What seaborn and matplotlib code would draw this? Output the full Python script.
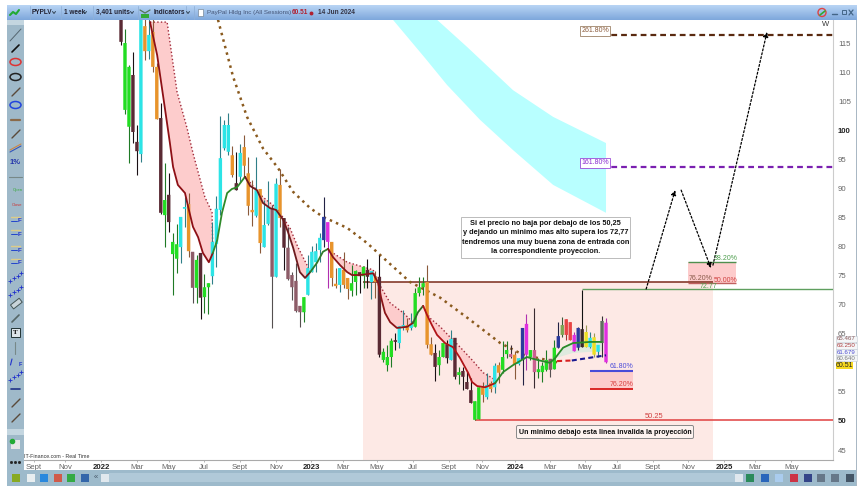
import numpy as np
import pandas as pd
import seaborn as sns
import matplotlib
matplotlib.use('Agg')
import matplotlib.pyplot as plt
from matplotlib.patches import Rectangle, Ellipse, FancyBboxPatch

# candles, one per week, oldest first
body_top = [125,115.0,110.9,109.5,98.0,125,117.9,116.4,116.9,110.9,102.1,88.0,88.9,80.8,80.4,85.1,86.8,87.3,79.1,77.7,
            78.9,73.0,73.7,80.8,86.5,95.2,100.9,100.9,95.7,90.9,96.1,97.1,92.6,86.3,89.7,89.9,83.7,86.8,86.6,90.8,
            90.6,84.9,79.8,75.1,74.1,69.8,71.3,76.3,79.1,79.2,81.5,85.1,84.2,80.8,73.6,76.3,76.0,74.6,73.7,75.8,
            75.6,76.5,76.0,75.8,74.8,74.8,61.9,61.0,63.8,63.9,66.3,66.5,66.5,66.7,72.0,73.0,73.7,73.9,63.2,61.7,
            61.0,63.4,63.2,64.1,64.3,58.4,58.6,56.7,55.3,53.4,55.8,55.8,56.2,56.5,59.5,59.6,61.0,62.2,61.5,61.4,
            60.8,66.0,66.7,62.2,62.2,58.9,59.5,60.5,60.7,62.6,64.6,66.5,67.5,67.0,64.8,66.0,65.8,65.3,64.3,64.4,
            63.1,67.2,66.9]
body_bot = [115.2,103.5,100.6,99.7,96.4,95.9,113.6,113.6,110.9,101.9,85.8,85.4,84.2,78.7,77.9,79.9,86.5,79.2,72.9,72.9,
            71.2,71.3,73.0,74.9,80.4,86.3,96.9,96.3,92.3,89.7,92.0,93.9,87.0,85.9,85.3,80.6,79.9,83.9,74.8,74.8,
            84.9,79.8,74.4,73.0,68.9,68.7,68.7,71.7,75.6,77.3,79.4,81.1,80.8,74.6,73.2,73.4,73.4,72.7,72.4,73.9,
            74.9,74.9,74.8,73.9,73.9,61.4,60.5,59.6,61.0,63.6,63.4,66.2,65.6,66.0,66.2,72.0,73.0,63.1,61.4,59.3,
            59.6,61.0,60.8,60.5,57.6,57.9,57.6,55.5,53.1,50.2,50.3,54.5,54.1,55.5,55.8,58.3,58.8,61.5,61.0,59.8,
            59.8,60.5,61.4,61.0,58.4,58.4,58.4,58.8,58.8,58.9,62.6,64.8,64.8,63.9,62.0,62.6,62.7,62.7,62.7,61.4,
            61.9,63.4,60.1]
high = [127,117.4,111.2,113.4,100.9,130,122,122,120,111.5,104.7,94.4,92.6,82.3,83.9,85.1,88.5,89.2,79.1,78.5,
        78.9,75.3,73.7,84.2,88.7,102.5,101.8,103.0,97.3,96.3,97.6,99.2,95.4,91.4,95.4,89.9,88.0,91.3,87.1,91.8,
        93.3,84.9,83.4,75.6,77.2,69.8,71.3,78.5,80.1,80.6,82.3,88.5,84.2,80.8,76.3,76.3,79.1,74.6,76.8,76.0,
        75.6,76.7,77.9,75.8,75.8,78.5,62.6,63.1,64.3,65.1,66.3,69.1,67.7,68.6,72.9,74.8,74.8,76.8,64.4,63.2,
        62.2,63.4,63.9,65.6,64.3,59.3,59.3,58.6,57.4,53.4,55.8,56.7,58.3,56.9,60.0,60.1,63.8,63.8,63.1,62.0,
        60.8,66.0,68.4,62.2,69.4,60.8,60.1,62.2,60.7,63.9,67.0,67.9,67.5,67.0,65.3,66.2,72.5,66.5,65.3,65.1,
        63.1,68.1,67.7]
low = [114.7,102.8,94.4,97.8,92.3,94.5,112.1,112.3,110.0,101.9,85.6,79.9,82.5,71.7,75.5,77.2,83.4,78.2,70.3,70.3,
       67.5,68.6,68.4,73.6,76.5,85.4,96.6,95.7,92.0,89.7,91.1,92.0,85.4,83.5,85.1,78.9,79.9,83.7,66.0,74.8,
       83.4,76.0,74.2,70.8,68.7,66.2,67.0,71.7,75.6,75.6,77.3,79.9,72.9,73.2,72.9,72.2,72.9,71.0,71.5,71.7,
       72.0,72.9,72.9,71.0,71.2,61.0,60.1,58.6,59.3,62.2,62.6,65.6,65.3,65.6,66.2,71.5,71.7,62.6,61.4,56.9,
       57.9,61.0,60.0,60.5,57.2,56.4,55.3,55.5,53.1,50.25,50.3,53.3,53.8,55.0,54.8,56.5,58.3,60.8,60.8,57.2,
       59.6,56.2,58.8,60.5,55.7,57.4,56.7,58.6,57.6,58.9,62.6,64.4,63.9,63.9,62.0,62.2,62.7,62.7,62.6,61.0,
       61.0,61.0,60.0]
kinds = ('b g g b b c o c o o b g b g g c c o v g '
         'b g g c c c c c o b c o o o c o c c v c '
         'o b v v v v g c c c c n m o o c o o g g '
         'b g b c o b g g g b c c o c g g g o o b '
         'g g b c b g b b b g g o c o c o g g p o '
         'c n m g p g g g v g n l r r m n k y c y '
         'c s m').split()

body_colors = {'b': '#5a2a34', 'v': '#8d5c68', 'g': '#22dd22', 'c': '#2ce4e6', 'o': '#e8942c', 'n': '#2b3a9c',
               'm': '#e02fe0', 'p': '#cc6090', 'r': '#e84545', 'y': '#eee020', 'l': '#7ea552', 'k': '#3a2a2a',
               's': '#5f6f60'}
wick_colors = {'b': '#1a1014', 'v': '#555050', 'g': '#1f7a25', 'c': '#2f7f88', 'o': '#8a5a3a', 'n': '#222244',
               'm': '#b02fb0', 'p': '#3a2a30', 'r': '#a03030', 'y': '#999955', 'l': '#3a5a3a', 'k': '#111111',
               's': '#333333'}

# fast average, split where its colour changes
ma_segments = {
    'a': ([7.3,9.1,11.1,12.3,13.1,14.3,16.1,16.9,18.1,19.4,20.6,22.1,23.1],
          [118.6,112.9,103.5,97.8,93.7,90.6,89.2,86.8,83.4,81.6,78.9,77.3,78.9]),
    'b': ([23.1,24.2,25.4,26.7,27.9,29.2,31.2], [78.9,81.1,85.8,89.2,89.9,90.2,92.0]),
    'c': ([31.2,32.5,34.2,35.7,37.5,39.0,40.8,42.0,43.3,45.0,46.3,47.6],
          [92.0,90.4,89.7,87.5,86.6,86.3,84.6,82.5,79.8,75.6,74.6,75.6]),
    'd': ([47.6,49.3,50.8,52.1], [75.6,77.2,79.1,79.6]),
    'e': ([52.1,53.3,55.1,56.9,58.1,60.1,63.4,64.7,65.4,66.4,67.7,69.4,72.0,73.5],
          [79.6,78.2,76.8,75.6,75.1,75.1,75.4,73.7,71.3,68.6,67.0,66.0,66.2,66.9]),
    'f': ([73.5,74.7,76.0], [66.9,68.7,69.8]),
    'g': ([76.0,77.0,78.2,79.5,81.5,83.5,85.3,87.3,88.3,89.6,91.6,94.1],
          [69.8,68.2,66.5,64.8,63.4,62.7,60.8,58.3,56.7,56.0,55.8,56.5]),
    'h': ([94.1,96.1,98.6,102.1,104.7,107.9,109.2,111.2,113.7,118.0,121.0],
          [56.5,58.4,59.6,61.0,60.5,60.0,60.8,62.6,63.4,63.6,63.6]),
}
ma_palette = {'a': '#8e1016', 'b': '#2f8a2a', 'c': '#6e1a1e', 'd': '#2f7a2a', 'e': '#8a1418',
              'f': '#2f6a2a', 'g': '#b01418', 'h': '#2a8a2a'}

# upper dotted edge of each pink zone
upper_zones = {
    'a': ([11.6,14.1,16.6,18.1,21.1,22.9,23.1], [118.6,106.6,100.4,96.1,88.5,85.9,78.9]),
    'c': ([31.2,35.7,39.2,42.5,44.5,46.8,47.6], [92.0,88.5,86.6,83.2,79.9,76.8,75.6]),
    'e': ([52.1,53.3,56.9,60.9,63.4,65.4,67.7,71.0,73.5], [79.6,78.9,77.3,76.5,76.0,73.0,70.3,68.6,66.9]),
    'g': ([76.0,77.7,80.3,82.8,85.3,88.3,91.1,94.1], [69.8,67.7,66.2,64.4,62.7,60.5,58.3,57.1]),
}
pale_week = [109.2,111.2,113.7,118.0,121.0,121.0,113.7]
pale_price = [60.8,62.6,63.4,63.6,63.6,62.0,61.7]

slow_week = [24.4,28.2,31.7,35.7,39.5,43.3,47.6,50.8,56.9,61.9,67.2,72.7,80.3,87.8,95.4,101.1,109.7]
slow_price = [119.0,109.2,102.3,96.9,93.5,89.4,86.6,85.1,83.2,80.6,77.3,73.9,71.2,67.4,63.4,61.4,60.1]

cloud_week = [68.4,76.5,82.0,90.3,98.6,108.7,122.0,122.0,108.7,98.6,87.1,79.5]
cloud_price = [119.0,112.4,107.8,101.8,96.6,90.6,85.8,97.8,102.3,106.9,114.3,119.0]

tick_weeks = [-21.9,-14.1,-5.0,4.0,12.1,20.9,29.9,39.0,47.8,55.8,64.4,73.5,82.5,90.8,99.1,107.9,116.7,124.8,133.8,142.6,151.7,159.5,168.6]
tick_labels = ['Sept','Nov','2022','Mar','May','Jul','Sept','Nov','2023','Mar','May','Jul','Sept','Nov','2024','Mar','May','Jul','Sept','Nov','2025','Mar','May']
price_ticks = [45,50,55,60,65,70,75,80,85,90,95,100,105,110,115]

week_min, week_max = -24.4, 179.1
price_min, price_max = 43.29, 118.96
zone_start, zone_end, zone_top = 60.9, 148.9, 73.9
level_72, level_50 = 72.77, 50.25
level_262, level_162 = 116.4, 93.7
fib_start = 116.0
upper_fib = (142.6, 154.7, 77.3, 73.7)
lower_fib = (118.0, 128.8, 58.6, 55.5)

sns.set_theme(style='white')
plt.rcParams['font.family'] = ['Liberation Sans', 'DejaVu Sans']

fig = plt.figure(figsize=(8.62, 4.92), dpi=100, facecolor='white')
ax = fig.add_axes([24/862, (492-460)/492, (833-24)/862, 440/492])
ax.set_xlim(week_min, week_max)
ax.set_ylim(price_min, price_max)

# background zones
ax.fill(cloud_week, cloud_price, color='#b8ffff', lw=0, zorder=1)
ax.add_patch(Rectangle((zone_start, price_min), zone_end-zone_start, zone_top-price_min, color='#fde9e5', lw=0, zorder=0))
for x0, x1, y0, y1 in [upper_fib, lower_fib]:
    ax.add_patch(Rectangle((x0, y1), x1-x0, y0-y1, color='#fdcccc', lw=0, zorder=1))

for key, (uw, up) in upper_zones.items():
    mw, mp = ma_segments[key]
    if key == 'a':
        uw, up = [7.3] + uw, [118.6] + up
    ax.fill(uw + mw[::-1], up + mp[::-1], color='#fdcccc', lw=0, zorder=1.2)
    sns.lineplot(x=uw, y=up, ax=ax, color='#a02838', lw=1, linestyle=(0, (1, 1.6)), sort=False, estimator=None, zorder=2)
ax.fill(pale_week, pale_price, color='#dfeadf', lw=0, zorder=1.2)

sns.lineplot(x=slow_week, y=slow_price, ax=ax, color='#8a5a1e', lw=1.8, linestyle=(0, (1, 1.7)), sort=False, estimator=None, zorder=4)

# horizontal levels
ax.hlines(zone_top, zone_start, zone_end, color='#7a2a1a', lw=1.1, zorder=3)
ax.hlines(level_72, fib_start, week_max, color='#5f9f5f', lw=1, zorder=3)
ax.hlines(level_50, 89.1, week_max, color='#e04040', lw=1.1, zorder=3)
ax.hlines(level_262, fib_start, week_max, color='#5a2a10', lw=1.6, linestyle=(0, (2.6, 1.8)), zorder=3)
ax.hlines(level_162, fib_start, week_max, color='#7a20b0', lw=1.6, linestyle=(0, (2.6, 1.8)), zorder=3)
ax.hlines(upper_fib[2], upper_fib[0], upper_fib[1], color='#4f8f4f', lw=1, zorder=3)
ax.hlines(upper_fib[3], upper_fib[0], upper_fib[1], color='#c06060', lw=1, zorder=3)
ax.hlines(lower_fib[2], lower_fib[0], lower_fib[1], color='#4a4ad8', lw=1.5, zorder=3)
ax.hlines(lower_fib[3], lower_fib[0], lower_fib[1], color='#d81818', lw=1.3, zorder=3)

# candles
weeks = np.arange(len(body_top))
ax.vlines(weeks, low, high, colors=[wick_colors[k] for k in kinds], lw=0.8, zorder=5)
bars = ax.bar(weeks, np.array(body_top)-np.array(body_bot), bottom=body_bot, width=0.85,
              color=[body_colors[k] for k in kinds], lw=0, zorder=6)
for b in bars:
    b.set_snap(False)

# fast average over the candles
ma_df = pd.concat([pd.DataFrame({'week': w, 'price': p, 'seg': s}) for s, (w, p) in ma_segments.items()])
sns.lineplot(data=ma_df, x='week', y='price', hue='seg', palette=ma_palette, lw=1.3, sort=False,
             estimator=None, legend=False, ax=ax, zorder=7)

# small dashed link under the last candles
ax.plot([109.7, 113.4], [60.3, 60.4], color='#d82020', lw=1.5, ls=(0, (2.4, 1.6)), zorder=8)
ax.plot([113.4, 122.0], [60.4, 61.3], color='#1a1a90', lw=1.5, ls=(0, (2.4, 1.6)), zorder=8)

# projected path
arrows = [((132.1, 72.7), (139.4, 89.7)), ((140.9, 89.7), (148.4, 76.3)), ((148.9, 76.8), (162.5, 116.9))]
for a, b in arrows:
    ax.annotate('', xy=b, xytext=a, zorder=9,
                arrowprops=dict(arrowstyle='-|>', color='black', lw=0.9, ls=(0, (1.6, 1.6)), mutation_scale=7, shrinkA=0, shrinkB=0))

ax.set_xticks(tick_weeks)
ax.set_xticklabels(tick_labels, fontsize=5.6, color='#666666')
for lab in ax.get_xticklabels():
    if lab.get_text().isdigit():
        lab.set_fontweight('bold')
        lab.set_color('#222222')
ax.yaxis.tick_right()
ax.set_yticks(price_ticks)
ax.set_yticklabels([str(p) for p in price_ticks], fontsize=5.6, color='#666666')
for lab in ax.get_yticklabels():
    if lab.get_text() in ('50', '100'):
        lab.set_fontweight('bold')
        lab.set_color('#222222')
ax.tick_params(axis='x', length=1.5, width=0.5, color='#999999', pad=1.5, bottom=True)
ax.tick_params(axis='y', length=2.5, width=0.5, color='#999999', pad=1, right=True, left=False)
sns.despine(ax=ax, top=True, left=True, right=False, bottom=False)
ax.spines['bottom'].set_color('#aaaaaa')
ax.spines['right'].set_color('#cccccc')
ax.spines['bottom'].set_linewidth(0.8)
ax.spines['right'].set_linewidth(0.8)
ax.set_xlabel('')
ax.set_ylabel('')

# window chrome and labels, in pixels
ui = fig.add_axes([0, 0, 1, 1], zorder=20)
ui.axis('off')
ui.patch.set_alpha(0)

grad = np.linspace(0, 1, 16).reshape(-1, 1)
top_cmap = matplotlib.colors.LinearSegmentedColormap.from_list('bar', ['#b8d4f4', '#7fa8dc'])
ui.imshow(grad, extent=(7, 857, 20, 5), cmap=top_cmap, aspect='auto', zorder=1)
ui.add_patch(Rectangle((7, 20), 17, 450, color='#9fb9c9', lw=0, zorder=1))
ui.add_patch(Rectangle((7, 470), 850, 16, color='#9dbacb', lw=0, zorder=1))
ui.add_patch(Rectangle((109, 473), 626, 9, color='#b0c9d8', lw=0, zorder=2))
ui.add_patch(Rectangle((856, 20), 1.5, 466, color='#aab8c4', lw=0, zorder=1))
ui.set_xlim(0, 862)
ui.set_ylim(492, 0)
ui.set_aspect('auto')

bar_style = dict(fontsize=4.7, color='#222233', va='center', fontweight='bold', zorder=4)
ui.text(32, 12.5, 'PYPLV', **bar_style)
ui.text(64, 12.5, '1 week', **bar_style)
ui.text(96, 12.5, '3,401 units', **bar_style)
ui.text(154, 12.5, 'Indicators', **bar_style)
ui.text(207, 12.5, 'PayPal Hldg Inc (All Sessions)', fontsize=4.5, color='#445577', va='center', zorder=4)
ui.text(292, 12.5, '60.51', fontsize=4.7, color='#b02030', va='center', fontweight='bold', zorder=4)
ui.plot([311], [12.5], marker='o', ms=1.8, color='#b02030', zorder=4)
ui.text(318, 12.5, '14 Jun 2024', fontsize=4.7, color='#333344', va='center', fontweight='bold', zorder=4)
for x in [54, 85, 132, 188]:
    ui.plot([x - 1.5, x, x + 1.5], [11.5, 13.5, 11.5], color='#334455', lw=0.7, zorder=4)
for x in [30, 61, 93, 138, 186, 194]:
    ui.plot([x, x], [6, 19], color='#8fb0d8', lw=0.6, zorder=2)
ui.plot([10, 13, 16, 19], [15, 12, 14, 10], color='#22aa33', lw=1.5, zorder=3)
ui.plot([140, 145, 150], [10, 13, 10], color='#557755', lw=0.9, zorder=3)
ui.add_patch(Rectangle((141, 14), 8, 4, color='#33aa33', lw=0, zorder=3))
ui.add_patch(Rectangle((198, 9), 5, 7, facecolor='white', edgecolor='#778899', lw=0.5, zorder=3))
ui.plot([832, 837], [14, 14], color='#446688', lw=1, zorder=3)
ui.add_patch(Rectangle((842, 10), 4, 4, facecolor='none', edgecolor='#446688', lw=0.7, zorder=3))
ui.plot([849, 853], [10, 15], color='#446688', lw=0.9, zorder=3)
ui.plot([849, 853], [15, 10], color='#446688', lw=0.9, zorder=3)
ui.add_patch(Ellipse((822, 12.5), 8, 8, facecolor='none', edgecolor='#dd4444', lw=1, zorder=3))
ui.plot([820, 825], [15, 11], color='#33aa33', lw=1.2, zorder=4)

# left toolbar glyphs
for y, c in [(62, '#dd3333'), (77, '#222222'), (105, '#2244dd')]:
    ui.add_patch(Ellipse((15.5, y), 11, 7, facecolor='none', edgecolor=c, lw=1.1, zorder=3))
ui.plot([10, 21], [41, 29], color='#556670', lw=0.7, zorder=3)
ui.plot([12, 19], [52, 45], color='#111111', lw=1.2, zorder=3)
for y0 in (92, 134, 403, 418):
    ui.plot([12, 20], [y0 + 4, y0 - 4], color='#5a4a3a', lw=1, zorder=3)
ui.plot([11, 20], [120, 120], color='#8a6a4a', lw=1.6, zorder=3)
ui.plot([10, 21], [152, 146], color='#3355bb', lw=0.8, zorder=3)
ui.plot([10, 21], [150, 144], color='#cc8844', lw=0.8, zorder=3)
ui.text(15.5, 162, '1%', fontsize=5.5, color='#2233aa', ha='center', va='center', fontweight='bold', zorder=3)
ui.plot([9, 22], [177, 177], color='#778888', lw=0.8, zorder=3)
ui.text(17.5, 190.5, 'Open', fontsize=3, color='#33aa33', ha='center', va='center', zorder=3)
ui.text(17.5, 205, 'Close', fontsize=3, color='#cc3333', ha='center', va='center', zorder=3)
for y in (220, 233, 249, 262):
    ui.plot([11, 20], [y - 3, y - 3], color='#ddcc88', lw=1, zorder=3)
    ui.text(20, y + 1, 'F', fontsize=4.5, color='#2233cc', ha='center', va='center', fontweight='bold', zorder=3)
    ui.plot([11, 17], [y + 1, y + 1], color='#2244cc', lw=0.7, zorder=3)
for y in (277, 291, 376):
    ui.plot([10, 14, 18, 21], [y + 4, y + 1, y - 1, y - 4], color='#2233cc', lw=0, marker='+', ms=2.2, mew=0.6, zorder=3)
ui.add_patch(Rectangle((10.5, 305), 11, 5, angle=-38, facecolor='#c8d4da', edgecolor='#445555', lw=0.7, zorder=3))
ui.plot([12, 19], [322, 315], color='#556666', lw=1.2, zorder=3)
ui.add_patch(Rectangle((11, 328), 9, 9, facecolor='#dde5ea', edgecolor='#223333', lw=0.7, zorder=3))
ui.text(15.5, 332.5, 'T', fontsize=5, color='#111111', ha='center', va='center', fontweight='bold', family='Liberation Serif', zorder=3)
ui.plot([15.5, 15.5], [342, 354], color='#778888', lw=0.8, zorder=3)
ui.plot([10.5, 12], [365, 359], color='#2233cc', lw=0.8, zorder=3)
ui.text(20, 364, 'F', fontsize=4, color='#2233cc', ha='center', va='center', fontweight='bold', zorder=3)
ui.plot([11, 20], [389, 389], color='#223388', lw=1.2, zorder=3)
ui.add_patch(Rectangle((7, 429), 17, 6, color='#c4d6e0', lw=0, zorder=2))
ui.add_patch(Rectangle((7, 20), 17, 5, color='#c4d6e0', lw=0, zorder=2))
ui.add_patch(Rectangle((11, 440), 9, 9, color='#e6e6e6', lw=0, zorder=3))
ui.plot([12.5], [441], marker='o', ms=3, color='#22aa33', zorder=4)
ui.plot([11, 15, 19], [462, 462, 462], lw=0, marker='s', ms=1, color='#222222', zorder=3)

# bottom toolbar glyphs
for x, c in [(16, '#88aa22'), (31, '#e8eef0'), (44, '#2a88dd'), (58, '#d05a4a'), (71, '#33aa44'), (85, '#3366aa'),
             (750, '#2a8a5a'), (765, '#2a66bb'), (779, '#aaccee'), (794, '#cc3344'), (808, '#334488'), (821, '#667788'), (835, '#667788'), (850, '#445566')]:
    ui.add_patch(Rectangle((x - 4, 474), 8, 8, color=c, lw=0, zorder=3))
ui.text(96, 477.5, '«', fontsize=5.5, color='#445566', ha='center', va='center', zorder=3)
ui.add_patch(Rectangle((101, 473.5), 8, 8, color='#e0e8ee', lw=0, zorder=3))
ui.add_patch(Rectangle((735, 473.5), 8, 8, color='#e0e8ee', lw=0, zorder=3))

ui.text(24.5, 457, 'IT-Finance.com - Real Time', fontsize=3.8, color='#333333', va='center')
ui.text(826, 25, 'W', fontsize=5.5, color='#333333', ha='center', va='center')

# fib labels
ui.text(595, 31, '261.80%', fontsize=5, color='#8a5a3a', ha='center', va='center',
        bbox=dict(boxstyle='square,pad=0.2', fc='white', ec='#8a6a4a', lw=0.5))
ui.text(595, 163, '161.80%', fontsize=5, color='#8a2ad0', ha='center', va='center',
        bbox=dict(boxstyle='square,pad=0.2', fc='white', ec='#8a2ad0', lw=0.5))
ui.text(726, 258, '38.20%', fontsize=5, color='#4f9f4f', ha='center', va='center')
ui.text(701, 278, '76.20%', fontsize=5, color='#8a5a4a', ha='center', va='center')
ui.text(726, 280, '50.00%', fontsize=5, color='#d04040', ha='center', va='center')
ui.text(708, 286.5, '72.77', fontsize=5, color='#4f9f4f', ha='center', va='center')
ui.text(622, 367, '61.80%', fontsize=5, color='#4a4ad8', ha='center', va='center')
ui.text(622, 385, '76.20%', fontsize=5, color='#d84040', ha='center', va='center')
ui.text(654, 416, '50.25', fontsize=5.4, color='#d04040', ha='center', va='center')

# price tags on the axis
for y, txt, c in [(339, '65.467', '#8a5a5a'), (345.5, '63.250', '#b04040'), (352, '61.679', '#4a4ad0'), (358, '60.640', '#7a7a7a')]:
    ui.add_patch(Rectangle((836, y - 3), 21, 6, facecolor='#f4f6f8', edgecolor='#c4ccd4', lw=0.4, zorder=4))
    ui.text(846.5, y, txt, fontsize=4.4, color=c, ha='center', va='center', zorder=5)
ui.add_patch(Rectangle((836, 361.5), 17, 7, color='#f5d820', lw=0, zorder=6))
ui.text(844.5, 365.2, '60.51', fontsize=5, color='#222222', ha='center', va='center', zorder=7)

# comment boxes
ui.add_patch(Rectangle((461, 217), 169, 41, facecolor='white', edgecolor='#bbbbbb', lw=0.7, zorder=8))
note = ['Si el precio no baja por debajo de los 50,25', 'y dejando un minimo mas alto supera los 72,77',
        'tendremos una muy buena zona de entrada con', 'la correspondiente proyeccion.']
for i, line in enumerate(note):
    ui.text(545.5, 223.5 + i*9.4, line, fontsize=5.3, fontweight='bold', color='#111111', ha='center', va='center', zorder=9)
ui.add_patch(FancyBboxPatch((516.5, 425.5), 177, 13, boxstyle='round,pad=0,rounding_size=1.5', facecolor='#fdf3f0', edgecolor='#888888', lw=0.7, zorder=8))
ui.text(605, 432, 'Un minimo debajo esta linea invalida la proyección', fontsize=5.1, fontweight='bold', color='#111111', ha='center', va='center', zorder=9)

fig.savefig('out.png', dpi=100)
